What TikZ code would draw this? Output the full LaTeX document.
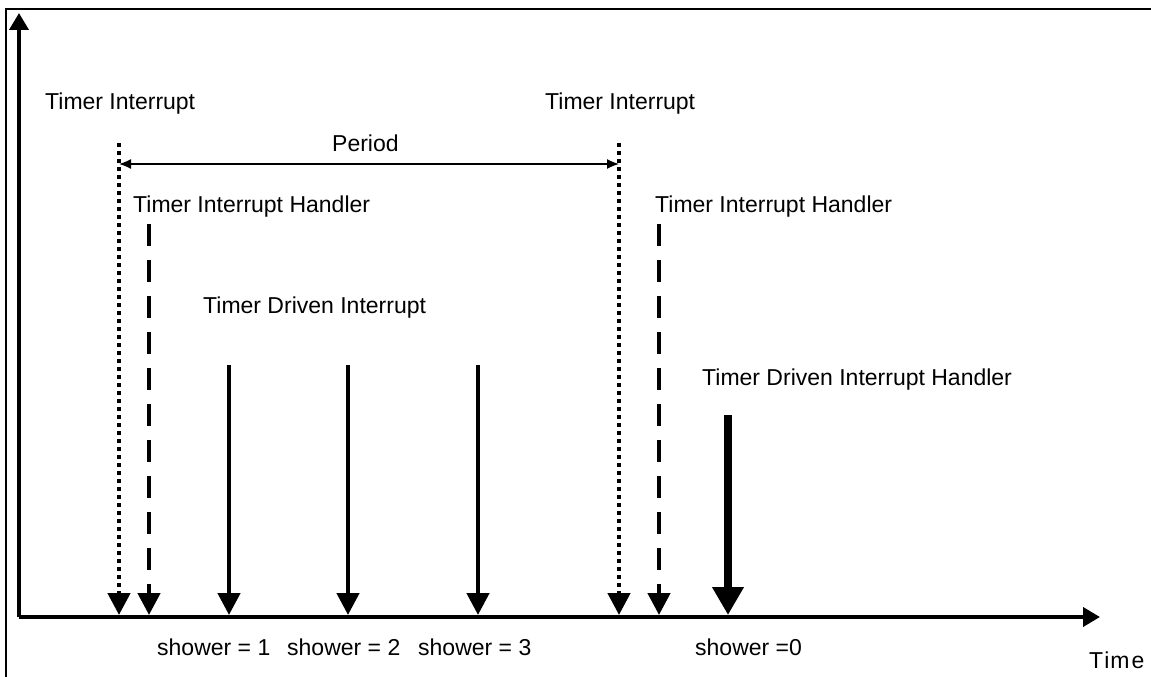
\documentclass[tikz,border=0pt]{standalone}
\usepackage{fontspec}
\setmainfont{Liberation Sans}
\usetikzlibrary{arrows.meta}
\tikzstyle{txt} = [anchor=base west, inner sep=0pt, font=\fontsize{23}{27}\selectfont]
\tikzstyle{axis} = [line width=3.8pt, -{Triangle[length=17pt,width=19pt]}]
\tikzstyle{irq} = [line width=4.5pt, dash pattern=on 4pt off 4pt, -{Triangle[length=22pt,width=22pt]}]
\tikzstyle{handler} = [line width=4.5pt, dash pattern=on 22pt off 14pt, -{Triangle[length=22pt,width=22pt]}]
\tikzstyle{driven} = [line width=4.5pt, -{Triangle[length=22pt,width=22pt]}]
\tikzstyle{bigdriven} = [line width=8pt, -{Triangle[length=28pt,width=30pt]}]
\tikzstyle{period} = [line width=1.3pt, {Latex[length=12pt,width=10pt]}-{Latex[length=12pt,width=10pt]}]

\begin{document}
\begin{tikzpicture}[x=1pt,y=-1pt]
\useasboundingbox (0,0) rectangle (1151,677);
% frame
\draw[line width=2pt] (6,677) -- (6,9) -- (1151,9);
% axes
\coordinate (origin) at (19,617);
\coordinate (ytop) at (19,13);
\coordinate (xend) at (1100,617);
\draw[axis] (origin) -- (ytop);
\draw[axis] (origin) -- (xend);
% timer interrupts
\coordinate (irqA) at (119,143);
\coordinate (irqAend) at (119,615);
\coordinate (irqB) at (619,143);
\coordinate (irqBend) at (619,615);
\draw[irq] (irqA) -- (irqAend);
\draw[irq] (irqB) -- (irqBend);
\node (tiA) [txt] at (45,110) {Timer Interrupt};
\node (tiB) [txt] at (545,110) {Timer Interrupt};
% period
\coordinate (perA) at (119,164);
\coordinate (perB) at (619,164);
\draw[period] (perA) -- (perB);
\node (per) [txt] at (332,151) {Period};
% handlers
\coordinate (hdlA) at (149,224);
\coordinate (hdlAend) at (149,615);
\coordinate (hdlB) at (659,224);
\coordinate (hdlBend) at (659,615);
\draw[handler] (hdlA) -- (hdlAend);
\draw[handler] (hdlB) -- (hdlBend);
\node (tihA) [txt] at (133,212) {Timer Interrupt Handler};
\node (tihB) [txt] at (655,212) {Timer Interrupt Handler};
% timer driven interrupts
\node (tdi) [txt] at (203,313) {Timer Driven Interrupt};
\coordinate (drvA) at (229,365);
\coordinate (drvAend) at (229,615);
\coordinate (drvB) at (348,365);
\coordinate (drvBend) at (348,615);
\coordinate (drvC) at (478,365);
\coordinate (drvCend) at (478,615);
\draw[driven] (drvA) -- (drvAend);
\draw[driven] (drvB) -- (drvBend);
\draw[driven] (drvC) -- (drvCend);
\node (tdih) [txt] at (702,385) {Timer Driven Interrupt Handler};
\coordinate (drvD) at (728,415);
\coordinate (drvDend) at (728,615);
\draw[bigdriven] (drvD) -- (drvDend);
% shower values
\node (shA) [txt] at (157,655) {shower = 1};
\node (shB) [txt] at (287,655) {shower = 2};
\node (shC) [txt] at (418,655) {shower = 3};
\node (shD) [txt] at (695,655) {shower =0};
\node (time) [txt] at (1089,668) {T\kern1pt i\kern1pt m\kern2pt e};
\end{tikzpicture}
\end{document}
